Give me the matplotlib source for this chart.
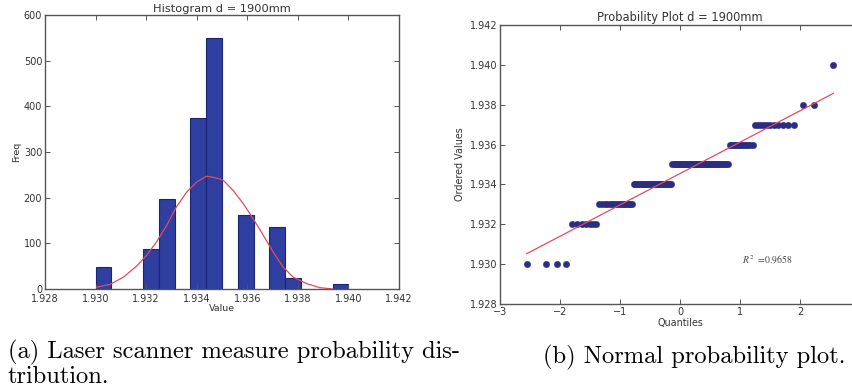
import statistics

import matplotlib
matplotlib.use('Agg')
import matplotlib.pyplot as plt
from matplotlib.ticker import FormatStrFormatter, MultipleLocator
import numpy as np

# left panel: histogram of the scanner readings
bin_left = [1.930, 1.931875, 1.9325, 1.93375, 1.934375, 1.935625, 1.936875, 1.9375, 1.939375]
bin_counts = [48, 87, 198, 374, 549, 161, 136, 23, 11]
bin_width = 0.000625

# red density curve
curve_x = [1.93004, 1.93057, 1.93110, 1.93162, 1.93202, 1.93241, 1.93281, 1.93320,
           1.93360, 1.93399, 1.93439, 1.93452, 1.93485, 1.93505, 1.93544, 1.93584,
           1.93623, 1.93663, 1.93702, 1.93742, 1.93781, 1.93834, 1.93886, 1.93939]
curve_y = [4, 10, 26, 50, 74, 103, 139, 180, 212, 234, 247, 246, 242, 238, 216, 187,
           154, 118, 81, 48, 26, 12, 3, 0]

# right panel: ordered values (how many dots sit on each level)
levels = [1.930, 1.932, 1.933, 1.934, 1.935, 1.936, 1.937, 1.938, 1.940]
level_counts = [4, 7, 17, 30, 45, 13, 11, 2, 1]
quantile_ticks = [-3, -2, -1, 0, 1, 2]
r2_label = '0.9658'

BAR = '#2f3f9f'
BAR_EDGE = '#1c2670'
DOT = '#2b2d80'
RED = '#e24a62'
SPINE = '#555555'


def style_axes(ax):
    for s in ax.spines.values():
        s.set_color(SPINE)
        s.set_linewidth(1.0)
    ax.tick_params(direction='in', top=True, right=True, length=3.5, width=0.7,
                   color=SPINE, labelsize=7, labelcolor='#333333', pad=2)


def probplot_quantiles(n):
    # Filliben order statistic medians, as scipy.stats.probplot does
    m = np.empty(n)
    m[-1] = 0.5 ** (1.0 / n)
    m[0] = 1 - m[-1]
    i = np.arange(2, n)
    m[1:-1] = (i - 0.3175) / (n + 0.365)
    nd = statistics.NormalDist()
    return np.array([nd.inv_cdf(p) for p in m])


plt.rcParams['mathtext.fontset'] = 'stix'
fig = plt.figure(figsize=(8.52, 3.91), dpi=100)

# histogram
ax1 = fig.add_axes([45 / 852, 1 - 289 / 391, 354 / 852, 274 / 391])
ax1.bar(bin_left, bin_counts, width=bin_width, align='edge', color=BAR,
        edgecolor=BAR_EDGE, linewidth=0.8)
ax1.plot(curve_x, curve_y, color=RED, linewidth=0.9)
ax1.set_xlim(1.928, 1.942)
ax1.set_ylim(0, 600)
ax1.xaxis.set_major_locator(MultipleLocator(0.002))
ax1.xaxis.set_major_formatter(FormatStrFormatter('%.3f'))
ax1.yaxis.set_major_locator(MultipleLocator(100))
style_axes(ax1)
ax1.tick_params(axis='x', pad=3.5)
ax1.set_title('Histogram d = 1900mm', fontsize=8.2, color='#333333', pad=2)
ax1.set_xlabel('Value', fontsize=6.8, color='#333333', labelpad=0)
ax1.set_ylabel('Freq', fontsize=6.8, color='#333333', labelpad=2)

# probability plot
ordered = np.repeat(levels, level_counts)
osm = probplot_quantiles(len(ordered))
slope, intercept = np.polyfit(osm, ordered, 1)

ax2 = fig.add_axes([500 / 852, 1 - 304 / 391, 360 / 852, 279 / 391])
ax2.plot(osm, ordered, 'o', color=DOT, markersize=4.6, markeredgewidth=0.3,
         markeredgecolor=DOT)
xs = np.array([osm.min(), osm.max()])
ax2.plot(xs, slope * xs + intercept, color=RED, linewidth=0.9)
ax2.set_xlim(-3, 3)
ax2.set_ylim(1.928, 1.942)
ax2.set_xticks(quantile_ticks)
ax2.yaxis.set_major_locator(MultipleLocator(0.002))
ax2.yaxis.set_major_formatter(FormatStrFormatter('%.3f'))
style_axes(ax2)
ax2.set_title('Probability Plot d = 1900mm', fontsize=8.3, color='#333333', pad=3)
ax2.set_xlabel('Quantiles', fontsize=6.9, color='#333333', labelpad=1)
ax2.set_ylabel('Ordered Values', fontsize=6.9, color='#333333', labelpad=3)
ax2.text(1.03, 1.93025, r'$R^2$  =' + r2_label, fontsize=7, family='STIXGeneral',
         color='#444444', va='center')

# sub-captions
cap = dict(family='cmr10', fontsize=17.6, color='black', va='center')
fig.text(8 / 852, 1 - 352 / 391, '(a) Laser scanner measure probability dis-', **cap)
fig.text(8 / 852, 1 - 377 / 391, 'tribution.', **cap)
fig.text(543 / 852, 1 - 357 / 391, '(b) Normal probability plot.', **cap)

fig.savefig('out.png', dpi=100)
